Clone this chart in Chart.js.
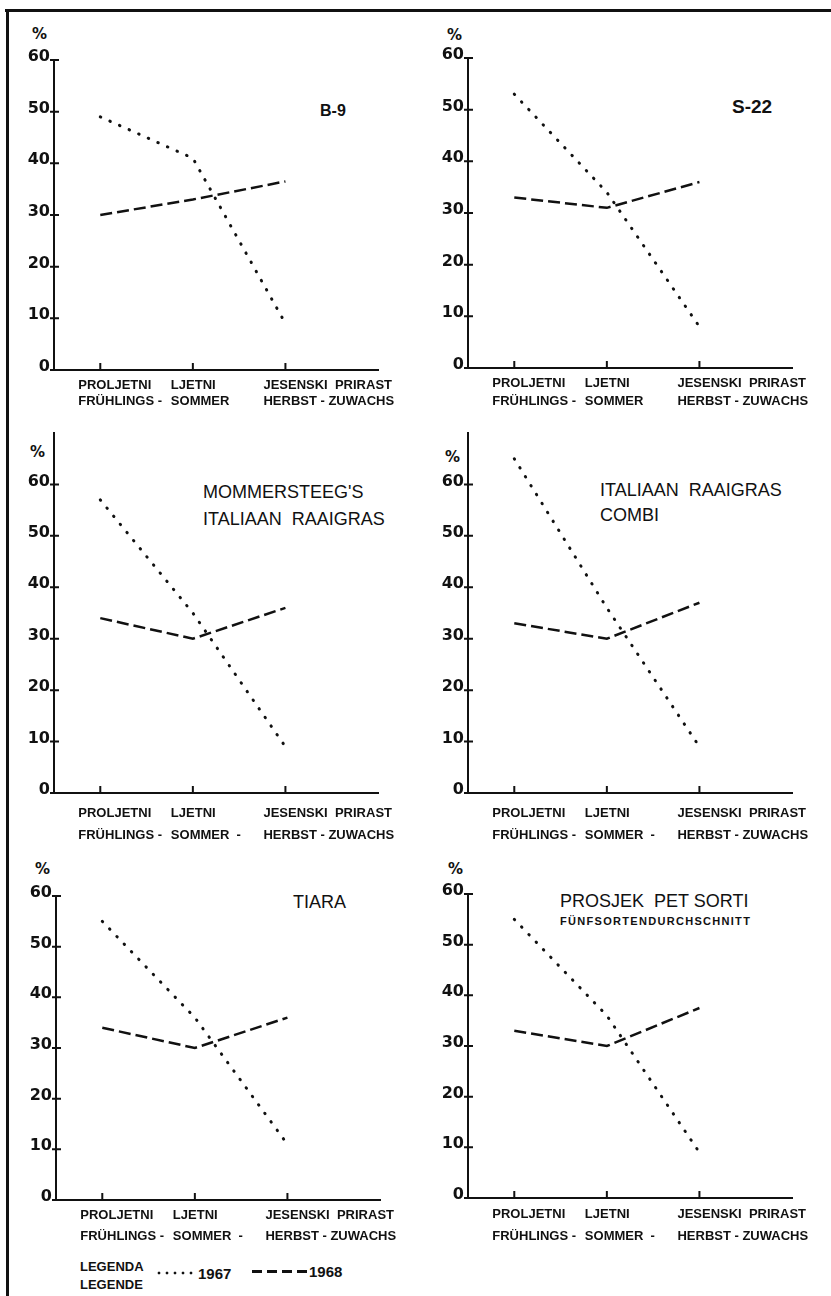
<!DOCTYPE html>
<html>
<head>
<meta charset="utf-8">
<script src="https://cdn.jsdelivr.net/npm/chart.js@4.4.1/dist/chart.umd.min.js"></script>
<style>
  body { margin: 0; background: #fff; }
  #page { position: relative; width: 831px; height: 1296px; overflow: hidden; background: #fff; color: #111;
          font-family: 'Liberation Sans', Arial, sans-serif; }
  canvas { position: absolute; }
  .t { position: absolute; white-space: pre; line-height: 1; }
  .pct { font: bold 15px 'DejaVu Sans', sans-serif; }
  .ttl { font-size: 18px; }
  .frame { position: absolute; background: #111; }
</style>
</head>
<body>
<div id="page">
  <div class="frame" style="left:5px;top:9px;width:826px;height:2.5px"></div>
  <div class="frame" style="left:6px;top:9px;width:2.5px;height:1287px"></div>

  <div class="t pct" style="left:32px;top:25px">%</div>
  <div class="t pct" style="left:447px;top:26px">%</div>
  <div class="t pct" style="left:30px;top:443px">%</div>
  <div class="t pct" style="left:445px;top:448px">%</div>
  <div class="t pct" style="left:35px;top:860px">%</div>
  <div class="t pct" style="left:448px;top:860px">%</div>

  <div class="t" style="left:320px;top:103px;font-weight:bold;font-size:16px">B-9</div>
  <div class="t" style="left:732px;top:97px;font-weight:bold;font-size:19px">S-22</div>
  <div class="t ttl" style="left:203px;top:483px">MOMMERSTEEG'S</div>
  <div class="t ttl" style="left:203px;top:510px">ITALIAAN  RAAIGRAS</div>
  <div class="t ttl" style="left:600px;top:481px">ITALIAAN  RAAIGRAS</div>
  <div class="t ttl" style="left:600px;top:506px">COMBI</div>
  <div class="t ttl" style="left:293px;top:893px">TIARA</div>
  <div class="t ttl" style="left:560px;top:892px">PROSJEK  PET SORTI</div>
  <div class="t" style="left:560px;top:916px;font-weight:bold;font-size:11px;letter-spacing:1.3px">FÜNFSORTENDURCHSCHNITT</div>

  <div class="t" style="left:80px;top:1260px;font-weight:bold;font-size:13px">LEGENDA</div>
  <div class="t" style="left:80px;top:1278px;font-weight:bold;font-size:13px">LEGENDE</div>
  <div style="position:absolute;left:155px;top:1271px;width:42px;height:4px;
              background:radial-gradient(circle, #111 1.2px, transparent 1.7px) 0 0 / 8px 4px repeat-x"></div>
  <div class="t" style="left:198px;top:1266px;font-weight:bold;font-size:15px">1967</div>
  <div style="position:absolute;left:252px;top:1270px;width:56px;height:2.5px;
              background:repeating-linear-gradient(90deg, #111 0 10px, transparent 10px 15px)"></div>
  <div class="t" style="left:309px;top:1264px;font-weight:bold;font-size:15px">1968</div>
</div>

<script>
// x categories (two text lines under each tick)
const catTop = ['PROLJETNI', 'LJETNI', 'JESENSKI  PRIRAST'];
const catBottomA = ['FRÜHLINGS -', 'SOMMER', 'HERBST - ZUWACHS'];
const catBottomB = ['FRÜHLINGS -', 'SOMMER  -', 'HERBST - ZUWACHS'];
const yTicks = [0, 10, 20, 30, 40, 50, 60];

// shares of growth, %
const b9_1967 = [49, 41, 9];
const b9_1968 = [30, 33, 36.5];
const s22_1967 = [53, 34, 8];
const s22_1968 = [33, 31, 36];
const mom_1967 = [57, 35, 9];
const mom_1968 = [34, 30, 36];
const combi_1967 = [65, 36, 9];
const combi_1968 = [33, 30, 37];
const tiara_1967 = [55, 36, 11];
const tiara_1968 = [34, 30, 36];
const avg_1967 = [55, 36, 9];
const avg_1968 = [33, 30, 37.5];

const panels = [
  {left: 0,   top: 0,   w: 415, h: 430, padTop: 60, axisW: 54, ymax: 60, d67: b9_1967,    d68: b9_1968,    bottom: catBottomA, lh: 16, pad: 7},
  {left: 415, top: 0,   w: 416, h: 428, padTop: 58, axisW: 53, ymax: 60, d67: s22_1967,   d68: s22_1968,   bottom: catBottomA, lh: 18, pad: 6},
  {left: 0,   top: 420, w: 415, h: 433, padTop: 13, axisW: 54, ymax: 70, d67: mom_1967,   d68: mom_1968,   bottom: catBottomB, lh: 22, pad: 9},
  {left: 415, top: 420, w: 416, h: 433, padTop: 13, axisW: 53, ymax: 70, d67: combi_1967, d68: combi_1968, bottom: catBottomB, lh: 22, pad: 9},
  {left: 0,   top: 843, w: 415, h: 417, padTop: 53, axisW: 56, ymax: 60, d67: tiara_1967, d68: tiara_1968, bottom: catBottomB, lh: 21, pad: 5},
  {left: 415, top: 843, w: 416, h: 415, padTop: 51, axisW: 53, ymax: 60, d67: avg_1967,   d68: avg_1968,   bottom: catBottomB, lh: 22, pad: 5}
];

// short tick marks drawn inside the axes
const innerTicks = {
  id: 'innerTicks',
  afterDraw(chart) {
    const ctx = chart.ctx, a = chart.chartArea;
    const xs = chart.scales.x, ys = chart.scales.y;
    ctx.save();
    ctx.strokeStyle = '#111';
    ctx.lineWidth = 2;
    ctx.beginPath();
    xs.ticks.forEach(t => {
      const px = xs.getPixelForValue(t.value);
      ctx.moveTo(px, a.bottom);
      ctx.lineTo(px, a.bottom - 7);
    });
    ys.ticks.forEach(t => {
      if (t.value > 60) return;
      const py = ys.getPixelForValue(t.value);
      ctx.moveTo(a.left - 4, py);
      ctx.lineTo(a.left + 5, py);
    });
    ctx.stroke();
    ctx.restore();
  }
};

const page = document.getElementById('page');

panels.forEach(p => {
  const cv = document.createElement('canvas');
  cv.width = p.w; cv.height = p.h;
  cv.style.left = p.left + 'px'; cv.style.top = p.top + 'px';
  page.appendChild(cv);

  new Chart(cv, {
    type: 'line',
    data: {
      datasets: [
        {
          label: '1967',
          data: p.d67.map((v, i) => ({x: i, y: v})),
          borderColor: '#111',
          borderWidth: 3,
          borderDash: [0.5, 10],
          borderCapStyle: 'round',
          pointRadius: 0,
          tension: 0,
          fill: false
        },
        {
          label: '1968',
          data: p.d68.map((v, i) => ({x: i, y: v})),
          borderColor: '#111',
          borderWidth: 2.5,
          borderDash: [12, 5],
          pointRadius: 0,
          tension: 0,
          fill: false
        }
      ]
    },
    options: {
      responsive: false,
      animation: false,
      devicePixelRatio: 1,
      layout: {padding: {top: p.padTop, right: p.w - p.axisW - 324, bottom: 0, left: 0}},
      plugins: {legend: {display: false}, tooltip: {enabled: false}},
      scales: {
        x: {
          type: 'linear',
          min: -0.5,
          max: 3,
          afterBuildTicks: s => { s.ticks = [0, 1, 2].map(v => ({value: v})); },
          afterFit: s => { s.height = 60; s.paddingLeft = 0; s.paddingRight = 0; },
          grid: {drawOnChartArea: false, drawTicks: false},
          border: {color: '#111', width: 2},
          ticks: {
            autoSkip: false, maxRotation: 0, minRotation: 0,
            align: 'start', labelOffset: -22, padding: p.pad,
            color: '#111',
            font: {family: "'Liberation Sans', Arial, sans-serif", size: 13, weight: 'bold', lineHeight: p.lh + 'px'},
            callback: v => [catTop[v], p.bottom[v]]
          }
        },
        y: {
          min: 0,
          max: p.ymax,
          afterBuildTicks: s => { s.ticks = yTicks.map(v => ({value: v})); },
          afterFit: s => { s.width = p.axisW; s.paddingTop = 0; s.paddingBottom = 0; },
          grid: {drawOnChartArea: false, drawTicks: false},
          border: {color: '#111', width: 2},
          ticks: {
            padding: 4, labelOffset: -3, color: '#111',
            font: {family: "'DejaVu Sans', sans-serif", size: 16, weight: 'bold'},
            callback: v => String(v)
          }
        }
      }
    },
    plugins: [innerTicks]
  });
});
</script>
</body>
</html>
